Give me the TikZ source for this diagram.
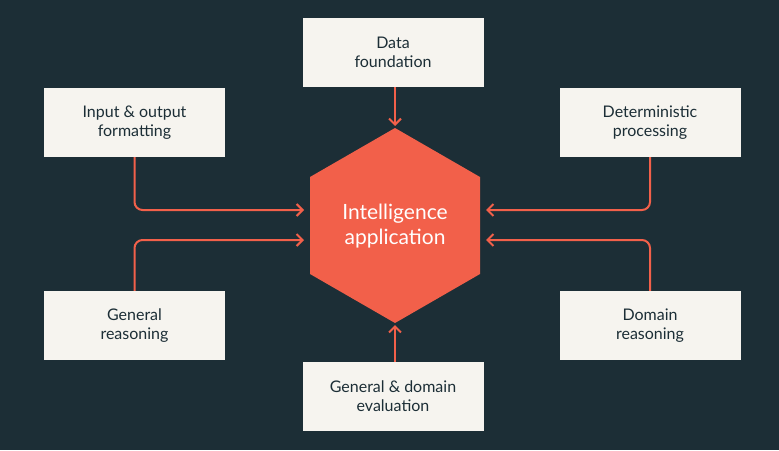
\documentclass[tikz,border=0pt]{standalone}
\usepackage{fontspec}
\setmainfont{Lato}
\usetikzlibrary{arrows.meta}
\definecolor{bg}{HTML}{1C2E36}
\definecolor{box}{HTML}{F6F4EF}
\definecolor{coral}{HTML}{F2604A}
\definecolor{txt}{HTML}{1C2E36}
\begin{document}
\begin{tikzpicture}[x=1pt,y=-1pt,
  bx/.style={fill=box,draw=none,minimum width=181pt,minimum height=69pt,align=center,text=txt,font=\fontsize{16}{19}\selectfont,inner sep=0pt},
  ar/.style={draw=coral,line width=2pt,rounded corners=8pt,-{Straight Barb[length=6pt,width=12pt]}}]
\fill[bg] (0,0) rectangle (779,450);
\useasboundingbox (0,0) rectangle (779,450);
\node[bx] (top) at (393,52.5) {Data\\foundation};
\node[bx] (lt) at (134.5,122.5) {Input \& output\\formatting};
\node[bx] (rt) at (650,122.5) {Deterministic\\processing};
\node[bx] (lb) at (134.5,325.5) {General\\reasoning};
\node[bx] (rb) at (650,325.5) {Domain\\reasoning};
\node[bx] (bot) at (393,396.5) {General \& domain\\evaluation};
\fill[coral] (395,128) -- (480,177) -- (480,274) -- (395,323) -- (310,274) -- (310,177) -- cycle;
\node[text=white,align=center,font=\fontsize{21}{25}\selectfont] (hex) at (395,226) {Intelligence\\application};
\coordinate (ht) at (395,126);
\coordinate (hb) at (395,325);
\coordinate (hl1) at (304,210);
\coordinate (hl2) at (304,240);
\coordinate (hr1) at (486,210);
\coordinate (hr2) at (486,240);
\draw[ar] (395,87) -- (ht);
\draw[ar] (395,362) -- (hb);
\draw[ar] (lt.south) |- (hl1);
\draw[ar] (lb.north) |- (hl2);
\draw[ar] (rt.south) |- (hr1);
\draw[ar] (rb.north) |- (hr2);
\end{tikzpicture}
\end{document}
